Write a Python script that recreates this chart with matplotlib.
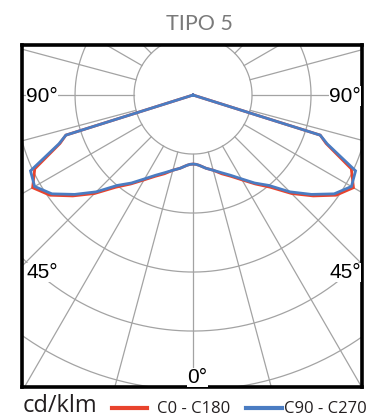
import numpy as np
import matplotlib.pyplot as plt
from matplotlib.lines import Line2D

# krzywa fotometryczna, kąt gamma (stopnie) i natężenie w cd/klm (połowa, druga to lustro)
gamma = [0, 2.5, 5, 10, 15, 20, 25, 30, 35, 40, 45, 50, 55, 60, 65, 70, 72.5, 75, 80, 85, 90]
c0_c180 = [58.5, 58.8, 59.8, 63, 66, 71, 76, 83, 92, 102, 118, 133, 148, 157, 148, 120, 113, 0, 0, 0, 0]
c90_c270 = [58.5, 58.8, 59.8, 63, 66, 70, 75, 82, 91, 100, 116, 131, 146, 155, 152, 121, 113, 0, 0, 0, 0]

rings = [50, 100, 150, 200, 250]
ray_angles = np.arange(0, 360, 15)

series_names = ['C0 - C180', 'C90 - C270']
series_colors = ['#e8432d', '#4a7cc2']
grid_color = '#a3a3a3'


def to_xy(g, vals):
    # lustrzane odbicie na drugą stronę i przejście na x, y (0 stopni w dół)
    g = np.asarray(g, dtype=float)
    v = np.asarray(vals, dtype=float)
    th = np.radians(np.concatenate([-g[::-1], g[1:]]))
    r = np.concatenate([v[::-1], v[1:]])
    return r * np.sin(th), -r * np.cos(th)


W, H = 378, 418
fig = plt.figure(figsize=(W / 100, H / 100), dpi=100)
ax = fig.add_axes([22.3 / W, (H - 386.5) / H, 339.7 / W, 341.5 / H])
ax.set_xlim(-144.7, 143.2)
ax.set_ylim(-247, 42.4)
ax.set_xticks([])
ax.set_yticks([])
for s in ax.spines.values():
    s.set_linewidth(2.6)
    s.set_color('black')
    s.set_zorder(5)

# siatka: okręgi i promienie
t = np.linspace(0, 2 * np.pi, 400)
for r in rings:
    ax.plot(r * np.sin(t), r * np.cos(t), color=grid_color, lw=0.9, zorder=1)
for a in ray_angles:
    th = np.radians(a)
    ax.plot([rings[0] * np.sin(th), 400 * np.sin(th)],
            [-rings[0] * np.cos(th), -400 * np.cos(th)],
            color=grid_color, lw=0.9, zorder=1)

# krzywe
for vals, col in zip([c0_c180, c90_c270], series_colors):
    x, y = to_xy(gamma, vals)
    ax.plot(x, y, color=col, lw=2.0, zorder=3, solid_joinstyle='miter')

# opisy kątów
lab_font = dict(family=['Liberation Sans Narrow', 'Liberation Sans'], fontsize=15, color='black',
                bbox=dict(facecolor='white', edgecolor='none', pad=0.3), zorder=6)
ax.text(-141.5, -5.7, '90°', ha='left', va='baseline', **lab_font)
ax.text(142.4, -5.7, '90°', ha='right', va='baseline', **lab_font)
ax.text(-141.0, -155, '45°', ha='left', va='baseline', **lab_font)
ax.text(142.4, -155, '45°', ha='right', va='baseline', **lab_font)
ax.text(-4.6, -244, '0°', ha='left', va='baseline', **lab_font)

# tytuł
fig.text(199 / W, 1 - 30 / H, 'TIPO 5', ha='center', va='baseline',
         family=['Lato', 'DejaVu Sans'], fontsize=15.5, color='#7a7a7a')

# legenda
fig.text(22.5 / W, 1 - 412 / H, 'cd/klm', ha='left', va='baseline',
         family=['Open Sans', 'DejaVu Sans'], fontsize=17, color='#231f20')
legend_x = [(111.7, 146.7, 157), (246, 281.7, 284)]
for (x0, x1, xt), name, col in zip(legend_x, series_names, series_colors):
    fig.add_artist(Line2D([x0 / W, x1 / W], [1 - 407.7 / H] * 2, color=col, lw=3,
                          transform=fig.transFigure))
    fig.text(xt / W, 1 - 413.3 / H, name, ha='left', va='baseline',
             family=['Open Sans', 'DejaVu Sans'], fontsize=12, color='#231f20')

plt.savefig('out.png', dpi=100)
